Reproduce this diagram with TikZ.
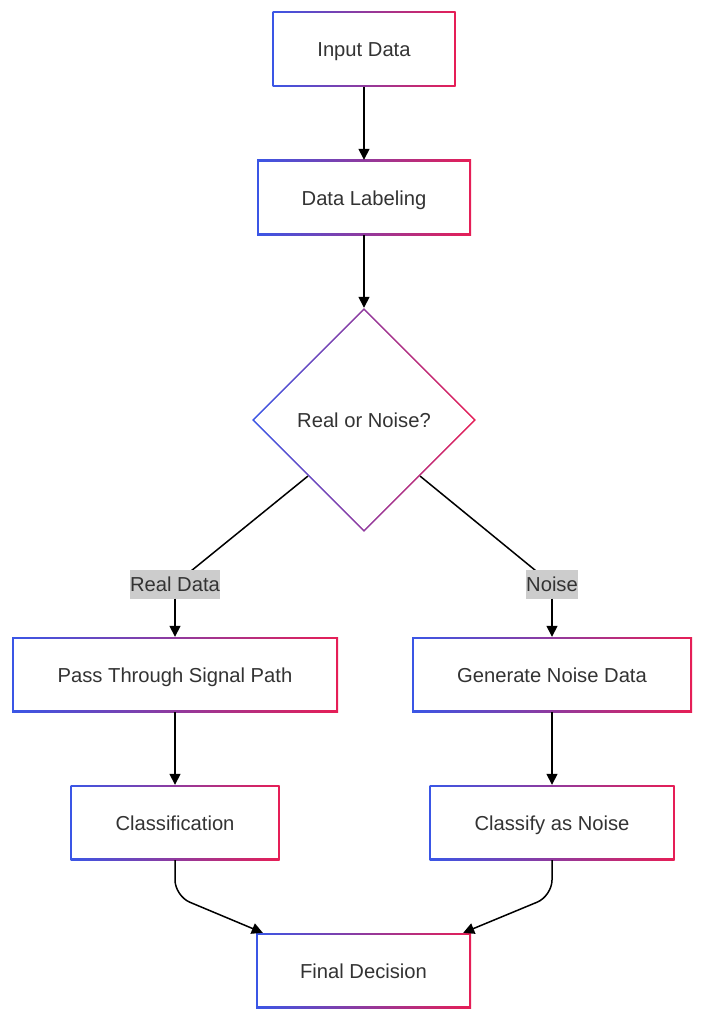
\documentclass[tikz,border=0pt]{standalone}
\usepackage{fontspec}
\setmainfont{Liberation Sans}
\usetikzlibrary{arrows.meta,shapes.geometric,calc}
\definecolor{gB}{RGB}{58,86,230}
\definecolor{gR}{RGB}{230,30,86}
\definecolor{txt}{RGB}{51,51,51}
\definecolor{lblbg}{RGB}{204,204,204}
\tikzset{
  basefont/.style={font=\fontsize{20.2}{24}\selectfont},
  gbox/.style={rectangle, minimum height=75pt, inner sep=0pt, left color=gB, right color=gR,
    text=txt, basefont, text height=15.5pt, text depth=0pt,
    path picture={\fill[white] ([shift={(1.6pt,1.6pt)}]path picture bounding box.south west)
      rectangle ([shift={(-1.6pt,-1.6pt)}]path picture bounding box.north east);}},
  gdia/.style={diamond, aspect=1, minimum width=224pt, minimum height=224pt, inner sep=0pt,
    left color=gB, right color=gR, text=txt, basefont, text height=15.5pt, text depth=0pt,
    path picture={\fill[white] ($(path picture bounding box.north)+(0,-2.3pt)$)
      -- ($(path picture bounding box.east)+(-2.3pt,0)$)
      -- ($(path picture bounding box.south)+(0,2.3pt)$)
      -- ($(path picture bounding box.west)+(2.3pt,0)$) -- cycle;}},
  lbl/.style={fill=lblbg, text=txt, basefont, inner xsep=0.5pt, inner ysep=0pt, minimum height=29pt,
    text height=15.5pt, text depth=0pt},
  conn/.style={draw=black, line width=1.5pt},
  arr/.style={conn, -{Triangle[length=11pt,width=11pt]}},
}
\begin{document}
\begin{tikzpicture}[x=1pt,y=-1pt]
\useasboundingbox (0,0) rectangle (707,1024);
\node[gbox, minimum width=183pt] (input) at (364,49) {Input Data};
\node[gbox, minimum width=214pt] (label) at (364,197.5) {Data Labeling};
\node[gdia] (dec) at (364,420) {Real or Noise?};
\node[gbox, minimum width=326pt] (pass) at (175,674.5) {Pass Through Signal Path};
\node[gbox, minimum width=280pt] (gen) at (552,674.5) {Generate Noise Data};
\node[gbox, minimum width=209pt] (cls) at (175,822.5) {Classification};
\node[gbox, minimum width=245pt] (cln) at (552,822.5) {Classify as Noise};
\node[gbox, minimum width=215pt] (fin) at (363.5,970.5) {Final Decision};
\coordinate (lr) at (175,584);
\coordinate (ln) at (552,584);
\draw[conn] (dec.south west) -- (lr);
\draw[conn] (dec.south east) -- (ln);
\node[lbl] (lblr) at (lr) {Real Data};
\node[lbl] (lbln) at (ln) {Noise};
\draw[arr] (input.south) -- (label.north);
\draw[arr] (label.south) -- (dec.north);
\draw[arr] (lblr.south) -- (pass.north);
\draw[arr] (lbln.south) -- (gen.north);
\draw[arr] (pass.south) -- (cls.north);
\draw[arr] (gen.south) -- (cln.north);
\coordinate (bl) at (175,896);
\coordinate (br) at (552,896);
\draw[arr, rounded corners=16pt] (cls.south) -- (bl) -- ([xshift=7pt]fin.north west);
\draw[arr, rounded corners=16pt] (cln.south) -- (br) -- ([xshift=-8pt]fin.north east);
\end{tikzpicture}
\end{document}
